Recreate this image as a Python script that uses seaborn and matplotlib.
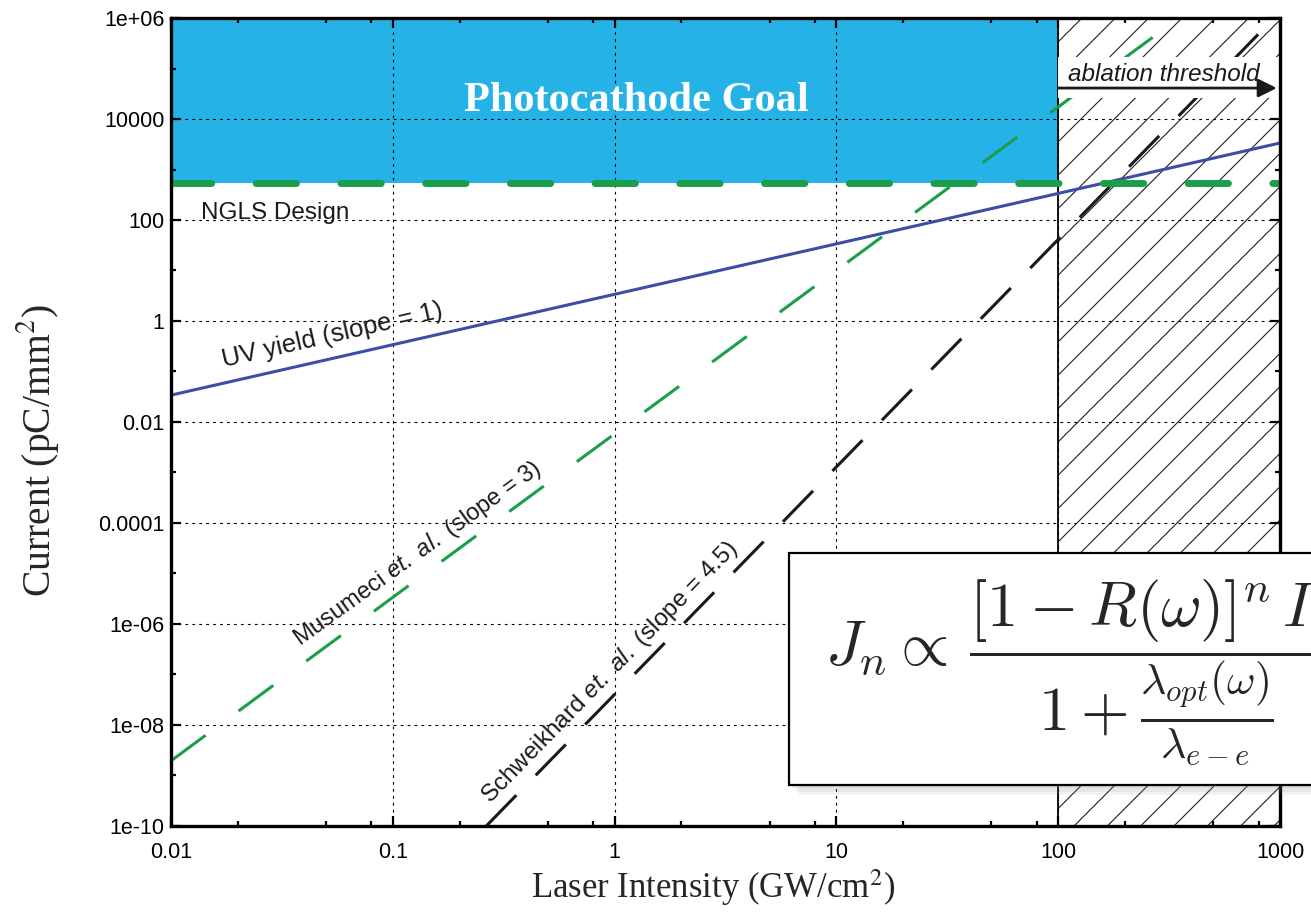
import matplotlib
matplotlib.use('Agg')
import matplotlib.pyplot as plt
import seaborn as sns
from matplotlib.patches import Rectangle
from matplotlib.ticker import FixedLocator, FixedFormatter, NullFormatter

# ---- data ----
x_uv = [0.01, 1000]
y_uv = [0.034, 3350]
x_mus = [0.01, 350]
y_mus = [1.95e-9, 1.0e6]
x_sch = [0.264, 940]
y_sch = [1e-10, 1e6]
ngls_level = 550
goal_x = [0.01, 100]
goal_y = [550, 1e6]
ablation_x = [100, 1000]
x_ticks = [0.01, 0.1, 1, 10, 100, 1000]
x_tick_labels = ['0.01', '0.1', '1', '10', '100', '1000']
y_ticks = [1e-10, 1e-8, 1e-6, 1e-4, 1e-2, 1, 1e2, 1e4, 1e6]
y_tick_labels = ['1e-10', '1e-08', '1e-06', '0.0001', '0.01', '1', '100', '10000', '1e+06']
y_minor = [1e-9, 1e-7, 1e-5, 1e-3, 1e-1, 1e1, 1e3, 1e5]
x_minor = [m * d for d in [0.01, 0.1, 1, 10, 100] for m in (2, 5, 8)]

sns.set_theme(style='ticks')
plt.rcParams['font.family'] = ['Liberation Sans', 'DejaVu Sans']
plt.rcParams['mathtext.fontset'] = 'cm'
plt.rcParams['mathtext.rm'] = 'Liberation Sans'
plt.rcParams['mathtext.it'] = 'Liberation Sans:italic'
plt.rcParams['mathtext.bf'] = 'Liberation Sans:bold'
plt.rcParams['hatch.linewidth'] = 0.8
plt.rcParams['lines.scale_dashes'] = False

fig = plt.figure(figsize=(13.11, 9.14), dpi=100)
ax = fig.add_axes([0.1304, 0.0963, 0.846, 0.8840])
ax.set_xscale('log')
ax.set_yscale('log')
ax.set_xlim(0.01, 1000)
ax.set_ylim(1e-10, 1e6)

# regions
ax.fill_between(goal_x, goal_y[0], goal_y[1], color='#25b2e6', lw=0, zorder=1)
ax.fill_between(ablation_x, 1e-10, 1e6, facecolor='white', edgecolor='#222222',
                hatch='/', lw=0, zorder=1)
ax.axvline(ablation_x[0], color='black', lw=1.3, zorder=2)

# lines
sns.lineplot(x=x_uv, y=y_uv, ax=ax, color='#3a4fa3', lw=2.2, zorder=3)
sns.lineplot(x=x_mus, y=y_mus, ax=ax, color='#1a9e4a', lw=2.2, zorder=3)
ax.lines[-1].set_dashes([31, 29.5])
sns.lineplot(x=x_sch, y=y_sch, ax=ax, color='#1a1a1a', lw=2.2, zorder=3)
ax.lines[-1].set_dashes([31, 20])
ax.axhline(ngls_level, color='#1a9e4a', lw=5, dashes=(29, 32),
           dash_capstyle='round', zorder=4)

# white label box in ablation region + arrow
ax.fill_between(ablation_x, 2.6e4, 1.7e5, color='white', lw=0, zorder=4.5)
ax.annotate('', xy=(966, 4.1e4), xytext=(100, 4.1e4),
            arrowprops=dict(arrowstyle='-|>', color='#1a1a1a', lw=2,
                            mutation_scale=28, shrinkA=0, shrinkB=0), zorder=5)
ax.text(298, 5.65e4, 'ablation threshold', style='italic', fontsize=17.5,
        ha='center', va='baseline', color='#1a1a1a', zorder=6)

# texts
ax.text(1.26, 2.27e4, 'Photocathode Goal', family='Liberation Serif',
        fontweight='bold', fontsize=30.5, color='white', ha='center', va='center', zorder=6)
ax.text(0.0137, 103, 'NGLS Design', fontsize=17.5, ha='left', va='baseline', color='#1a1a1a')
ax.text(0.0174, 0.122, 'UV yield (slope = 1)', fontsize=18.5, rotation=12.8,
        rotation_mode='anchor', ha='left', va='baseline', color='#1a1a1a')
ax.text(0.0381, 3.6e-7, r'Musumeci $et.\ al.$ (slope = 3)', fontsize=17,
        math_fontfamily='custom', rotation=35.8, rotation_mode='anchor',
        ha='left', va='baseline', color='#1a1a1a')
ax.text(0.273, 2.73e-10, r'Schweikhard $et.\ al.$ (slope = 4.5)', fontsize=17.5,
        math_fontfamily='custom', rotation=45.7, rotation_mode='anchor',
        ha='left', va='baseline', color='#1a1a1a')

# ticks and grid
ax.xaxis.set_major_locator(FixedLocator(x_ticks))
ax.xaxis.set_major_formatter(FixedFormatter(x_tick_labels))
ax.xaxis.set_minor_locator(FixedLocator(x_minor))
ax.xaxis.set_minor_formatter(NullFormatter())
ax.yaxis.set_major_locator(FixedLocator(y_ticks))
ax.yaxis.set_major_formatter(FixedFormatter(y_tick_labels))
ax.yaxis.set_minor_locator(FixedLocator(y_minor))
ax.yaxis.set_minor_formatter(NullFormatter())
ax.tick_params(which='both', direction='in', top=True, right=True, colors='black',
               labelsize=15.5, width=1.6)
ax.tick_params(which='major', length=7)
ax.tick_params(which='minor', length=3.5)
ax.tick_params(axis='x', which='major', pad=11.5)
ax.tick_params(axis='y', which='major', pad=4.5)
ax.grid(True, which='major', color='black', linestyle=(0, (2, 3)), linewidth=0.8)
ax.set_axisbelow('line')
for sp in ax.spines.values():
    sp.set_linewidth(2.4)
    sp.set_color('black')
    sp.set_zorder(10)

ax.set_xlabel(r'Laser Intensity (GW/cm$^2$)', family='Liberation Serif',
              math_fontfamily='stix', fontsize=25)
ax.set_ylabel(r'Current (pC/mm$^2$)', family='Liberation Serif',
              math_fontfamily='stix', fontsize=28.5)
ax.xaxis.set_label_coords(0.489, -0.051)
ax.yaxis.set_label_coords(-0.099, 0.465)

# equation box with shadow (the box runs past the right edge, as in the original)
for i, a in enumerate([0.10, 0.10, 0.12]):
    off = (3 - i) * 0.0025
    fig.add_artist(Rectangle((0.602 + off, 0.141 - off * 1.4), 0.5, 0.254,
                             transform=fig.transFigure, facecolor='gray',
                             edgecolor='none', alpha=a, zorder=19))
fig.add_artist(Rectangle((0.602, 0.141), 0.5, 0.254, transform=fig.transFigure,
                         facecolor='white', edgecolor='black', lw=1.6, zorder=20))
fig.text(825 / 1311, 1 - 673 / 914,
         r'$J_n \propto\, \dfrac{[1-R(\omega)]^n\, I^n}{1+\frac{\lambda_{opt}(\omega)}{\lambda_{e-e}}}$',
         fontsize=45, ha='left', va='center', zorder=21)

fig.savefig('out.png', dpi=100)
